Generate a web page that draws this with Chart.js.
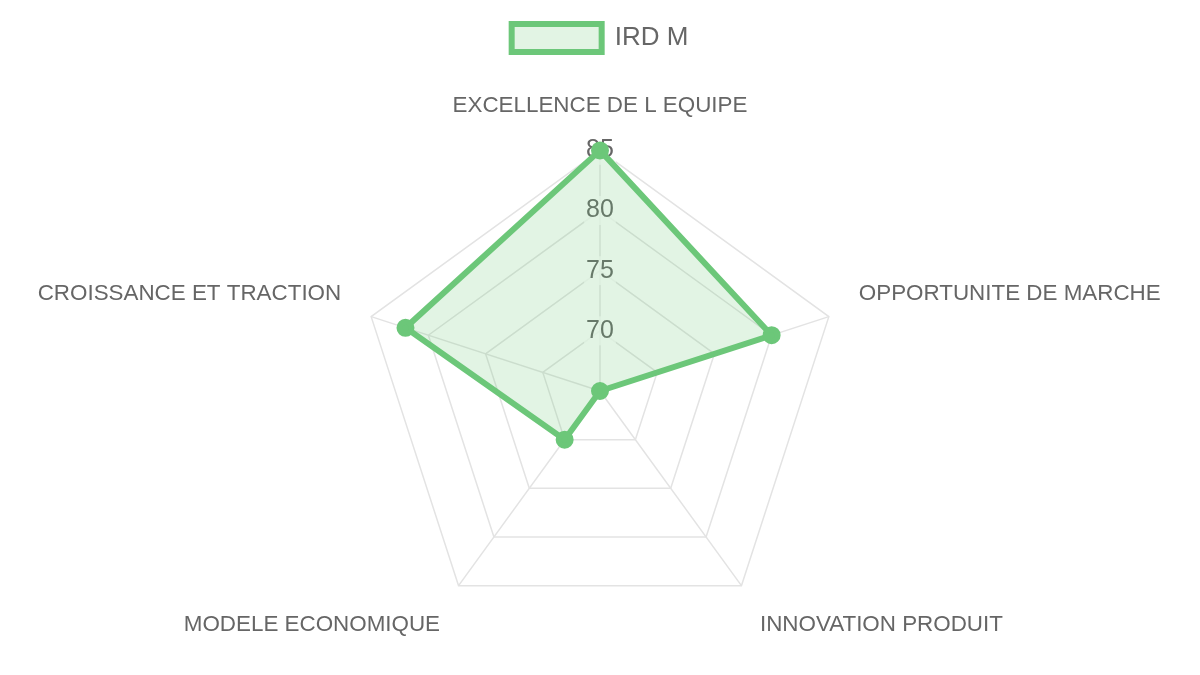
<!DOCTYPE html>
<html>
<head>
<meta charset="utf-8">
<script src="https://cdn.jsdelivr.net/npm/chart.js@4"></script>
<style>
  html, body { margin: 0; padding: 0; background: #fff; }
  #wrap { width: 1200px; height: 675px; }
</style>
</head>
<body>
<div id="wrap"><canvas id="radar"></canvas></div>
<script>
// data
var labels = ['EXCELLENCE DE L EQUIPE', 'OPPORTUNITE DE MARCHE', 'INNOVATION PRODUIT', 'MODELE ECONOMIQUE', 'CROISSANCE ET TRACTION']
var series_name = 'IRD M'
var scores = [85, 80, 65, 70, 82]

var green = 'rgb(108, 199, 121)'
var green_fill = 'rgba(108, 199, 121, 0.2)'
var grid_grey = '#e3e3e3'

Chart.defaults.font.family = '"Liberation Sans", Arial, sans-serif'
Chart.defaults.color = '#666'

// push the radar a bit further below the legend
var legendGap = {
  id: 'legendGap',
  beforeInit: function (chart) {
    var fit = chart.legend.fit
    chart.legend.fit = function () {
      fit.bind(chart.legend)()
      this.height += 8
    }
  }
}

var ctx = document.getElementById('radar')
var chart = new Chart(ctx, {
  type: 'radar',
  data: {
    labels: labels,
    datasets: [{
      label: series_name,
      data: scores,
      borderColor: green,
      backgroundColor: green_fill,
      borderWidth: 6,
      pointBackgroundColor: green,
      pointBorderColor: green,
      pointRadius: 6
    }]
  },
  options: {
    responsive: true,
    maintainAspectRatio: false,
    animation: false,
    layout: { padding: { top: 14, bottom: 6 } },
    plugins: {
      legend: {
        labels: {
          font: { size: 26 },
          boxWidth: 90,
          boxHeight: 28
        }
      }
    },
    scales: {
      r: {
        grid: { color: grid_grey, lineWidth: 1.5 },
        angleLines: { color: grid_grey, lineWidth: 1.5 },
        ticks: { font: { size: 25 }, stepSize: 5 },
        pointLabels: { font: { size: 22.4 }, padding: 17 }
      }
    }
  },
  plugins: [legendGap]
})
</script>
</body>
</html>
